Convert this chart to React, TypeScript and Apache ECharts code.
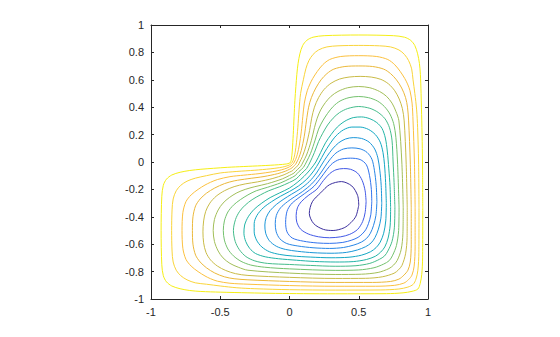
import React, { useEffect, useRef } from "react";
import * as echarts from "echarts";

const xTickLabels = ["-1", "-0.5", "0", "0.5", "1"];
const yTickLabels = ["-1", "-0.8", "-0.6", "-0.4", "-0.2", "0", "0.2", "0.4", "0.6", "0.8", "1"];

// contour lines, outermost (yellow) to innermost (dark blue)
const levelColors = [
  "#F5EE15", "#F9D43A", "#FBC03F", "#EBB83A", "#C9BB47", "#A2BE58", "#74C16D", "#45BC8B",
  "#22B4A6", "#12A7C3", "#1B97D9", "#2786E6", "#3173ED", "#4158E6", "#3B2F9E",
];

const contour01 = [[0.005,-0.005],[0.009,0.003],[0.014,0.02],[0.02,0.08],[0.027,0.2],[0.033,0.33],[0.039,0.45],[0.046,0.55],[0.053,0.64],[0.062,0.72],[0.075,0.79],[0.095,0.85],[0.125,0.888],[0.17,0.911],[0.25,0.922],[0.5,0.927],[0.75,0.922],[0.83,0.911],[0.875,0.888],[0.905,0.85],[0.925,0.79],[0.938,0.72],[0.945,0.64],[0.95,0.5],[0.955,0.3],[0.959,0.1],[0.961,-0.1],[0.962,-0.33],[0.961,-0.7],[0.955,-0.82],[0.944,-0.885],[0.927,-0.927],[0.885,-0.944],[0.82,-0.955],[0.7,-0.961],[0.33,-0.962],[0.1,-0.961],[-0.1,-0.959],[-0.3,-0.955],[-0.5,-0.95],[-0.64,-0.945],[-0.72,-0.938],[-0.79,-0.925],[-0.85,-0.905],[-0.888,-0.875],[-0.911,-0.83],[-0.922,-0.75],[-0.927,-0.5],[-0.922,-0.25],[-0.911,-0.17],[-0.888,-0.125],[-0.85,-0.095],[-0.79,-0.075],[-0.72,-0.062],[-0.64,-0.053],[-0.55,-0.046],[-0.45,-0.039],[-0.33,-0.033],[-0.2,-0.027],[-0.08,-0.02],[-0.02,-0.014],[-0.003,-0.009]];
const contour02 = [[0.012,-0.012],[0.017,-0.006],[0.021,0],[0.026,0.011],[0.033,0.033],[0.041,0.071],[0.05,0.14],[0.06,0.25],[0.069,0.38],[0.08,0.5],[0.1,0.6],[0.118,0.68],[0.14,0.74],[0.17,0.785],[0.21,0.818],[0.27,0.84],[0.35,0.848],[0.5,0.851],[0.65,0.848],[0.73,0.84],[0.79,0.818],[0.83,0.785],[0.86,0.74],[0.882,0.68],[0.892,0.6],[0.905,0.5],[0.918,0.38],[0.925,0.25],[0.932,0],[0.935,-0.33],[0.934,-0.66],[0.927,-0.79],[0.913,-0.855],[0.893,-0.893],[0.855,-0.913],[0.79,-0.927],[0.66,-0.934],[0.33,-0.935],[0,-0.932],[-0.25,-0.925],[-0.38,-0.918],[-0.5,-0.905],[-0.6,-0.892],[-0.68,-0.882],[-0.74,-0.86],[-0.785,-0.83],[-0.818,-0.79],[-0.84,-0.73],[-0.848,-0.65],[-0.851,-0.5],[-0.848,-0.35],[-0.84,-0.27],[-0.818,-0.21],[-0.785,-0.17],[-0.74,-0.14],[-0.68,-0.118],[-0.6,-0.1],[-0.5,-0.08],[-0.38,-0.069],[-0.25,-0.06],[-0.14,-0.05],[-0.071,-0.041],[-0.033,-0.033],[-0.011,-0.026],[0,-0.021],[0.006,-0.017]];
const contour03 = [[0.02,-0.02],[0.029,-0.011],[0.035,0],[0.044,0.018],[0.057,0.057],[0.071,0.123],[0.085,0.22],[0.096,0.33],[0.107,0.43],[0.128,0.52],[0.148,0.57],[0.168,0.61],[0.2,0.66],[0.24,0.71],[0.29,0.748],[0.37,0.77],[0.5,0.776],[0.63,0.77],[0.71,0.748],[0.76,0.71],[0.8,0.66],[0.832,0.61],[0.852,0.57],[0.87,0.52],[0.885,0.43],[0.892,0.3],[0.902,0],[0.907,-0.33],[0.907,-0.62],[0.9,-0.76],[0.884,-0.826],[0.859,-0.859],[0.826,-0.884],[0.76,-0.9],[0.62,-0.907],[0.33,-0.907],[0,-0.902],[-0.3,-0.892],[-0.43,-0.885],[-0.52,-0.87],[-0.57,-0.852],[-0.61,-0.832],[-0.66,-0.8],[-0.71,-0.76],[-0.748,-0.71],[-0.77,-0.63],[-0.776,-0.5],[-0.77,-0.37],[-0.748,-0.29],[-0.71,-0.24],[-0.66,-0.2],[-0.61,-0.168],[-0.57,-0.148],[-0.52,-0.128],[-0.43,-0.107],[-0.33,-0.096],[-0.22,-0.085],[-0.123,-0.071],[-0.057,-0.057],[-0.018,-0.044],[0,-0.035],[0.011,-0.029]];
const contour04 = [[0.03,-0.03],[0.044,-0.017],[0.053,0],[0.066,0.027],[0.085,0.085],[0.106,0.184],[0.122,0.3],[0.138,0.4],[0.158,0.47],[0.19,0.54],[0.228,0.6],[0.27,0.645],[0.32,0.678],[0.4,0.697],[0.5,0.701],[0.6,0.697],[0.68,0.678],[0.73,0.645],[0.772,0.6],[0.81,0.54],[0.838,0.47],[0.852,0.4],[0.86,0.3],[0.872,0],[0.879,-0.33],[0.879,-0.6],[0.872,-0.73],[0.855,-0.79],[0.826,-0.826],[0.79,-0.855],[0.73,-0.872],[0.6,-0.879],[0.33,-0.879],[0,-0.872],[-0.3,-0.86],[-0.4,-0.852],[-0.47,-0.838],[-0.54,-0.81],[-0.6,-0.772],[-0.645,-0.73],[-0.678,-0.68],[-0.697,-0.6],[-0.701,-0.5],[-0.697,-0.4],[-0.678,-0.32],[-0.645,-0.27],[-0.6,-0.228],[-0.54,-0.19],[-0.47,-0.158],[-0.4,-0.138],[-0.3,-0.122],[-0.184,-0.106],[-0.085,-0.085],[-0.027,-0.066],[0,-0.053],[0.017,-0.044]];
const contour05 = [[0.042,-0.042],[0.062,-0.024],[0.074,0],[0.093,0.039],[0.12,0.12],[0.145,0.23],[0.16,0.32],[0.18,0.4],[0.21,0.47],[0.25,0.53],[0.3,0.575],[0.36,0.605],[0.43,0.62],[0.51,0.625],[0.59,0.62],[0.66,0.603],[0.715,0.57],[0.76,0.52],[0.792,0.46],[0.815,0.39],[0.828,0.3],[0.842,0],[0.85,-0.33],[0.849,-0.55],[0.838,-0.67],[0.812,-0.755],[0.787,-0.787],[0.755,-0.812],[0.67,-0.838],[0.55,-0.849],[0.33,-0.85],[0,-0.842],[-0.3,-0.828],[-0.39,-0.815],[-0.46,-0.792],[-0.52,-0.76],[-0.57,-0.715],[-0.603,-0.66],[-0.62,-0.59],[-0.625,-0.51],[-0.62,-0.43],[-0.605,-0.36],[-0.575,-0.3],[-0.53,-0.25],[-0.47,-0.21],[-0.4,-0.18],[-0.32,-0.16],[-0.23,-0.145],[-0.12,-0.12],[-0.039,-0.093],[0,-0.074],[0.024,-0.062]];
const contour06 = [[0.056,-0.056],[0.081,-0.032],[0.098,0],[0.123,0.051],[0.158,0.158],[0.18,0.25],[0.2,0.32],[0.225,0.38],[0.26,0.435],[0.3,0.48],[0.35,0.515],[0.42,0.542],[0.5,0.551],[0.58,0.542],[0.65,0.515],[0.7,0.48],[0.74,0.43],[0.768,0.37],[0.79,0.3],[0.811,0],[0.821,-0.33],[0.819,-0.52],[0.806,-0.64],[0.778,-0.718],[0.752,-0.752],[0.718,-0.778],[0.64,-0.806],[0.52,-0.819],[0.33,-0.821],[0,-0.811],[-0.3,-0.79],[-0.37,-0.768],[-0.43,-0.74],[-0.48,-0.7],[-0.515,-0.65],[-0.542,-0.58],[-0.551,-0.5],[-0.542,-0.42],[-0.515,-0.35],[-0.48,-0.3],[-0.435,-0.26],[-0.38,-0.225],[-0.32,-0.2],[-0.25,-0.18],[-0.158,-0.158],[-0.051,-0.123],[0,-0.098],[0.032,-0.081]];
const contour07 = [[0.069,-0.069],[0.1,-0.04],[0.122,0],[0.152,0.063],[0.185,0.16],[0.21,0.24],[0.24,0.3],[0.275,0.355],[0.315,0.405],[0.365,0.445],[0.43,0.47],[0.5,0.478],[0.57,0.47],[0.635,0.445],[0.685,0.405],[0.725,0.35],[0.752,0.28],[0.768,0.18],[0.78,0],[0.791,-0.33],[0.788,-0.5],[0.772,-0.61],[0.745,-0.68],[0.72,-0.72],[0.68,-0.745],[0.61,-0.772],[0.5,-0.788],[0.33,-0.791],[0,-0.78],[-0.18,-0.768],[-0.28,-0.752],[-0.35,-0.725],[-0.405,-0.685],[-0.445,-0.635],[-0.47,-0.57],[-0.478,-0.5],[-0.47,-0.43],[-0.445,-0.365],[-0.405,-0.315],[-0.355,-0.275],[-0.3,-0.24],[-0.24,-0.21],[-0.16,-0.185],[-0.063,-0.152],[0,-0.122],[0.04,-0.1]];
const contour08 = [[0.085,-0.085],[0.123,-0.048],[0.149,0],[0.18,0.07],[0.21,0.15],[0.24,0.21],[0.275,0.27],[0.315,0.32],[0.36,0.36],[0.42,0.39],[0.5,0.405],[0.58,0.392],[0.64,0.362],[0.69,0.315],[0.722,0.25],[0.74,0.16],[0.748,0],[0.755,-0.15],[0.761,-0.33],[0.757,-0.48],[0.74,-0.58],[0.71,-0.65],[0.686,-0.686],[0.65,-0.71],[0.58,-0.74],[0.48,-0.757],[0.33,-0.761],[0.15,-0.755],[0,-0.748],[-0.16,-0.74],[-0.25,-0.722],[-0.315,-0.69],[-0.362,-0.64],[-0.392,-0.58],[-0.405,-0.5],[-0.39,-0.42],[-0.36,-0.36],[-0.32,-0.315],[-0.27,-0.275],[-0.21,-0.24],[-0.15,-0.21],[-0.07,-0.18],[0,-0.149],[0.048,-0.123]];
const contour09 = [[0.105,-0.105],[0.15,-0.055],[0.19,0],[0.225,0.07],[0.26,0.14],[0.3,0.2],[0.345,0.255],[0.4,0.298],[0.46,0.324],[0.52,0.329],[0.58,0.316],[0.63,0.288],[0.668,0.245],[0.692,0.175],[0.706,0.08],[0.717,-0.05],[0.726,-0.18],[0.73,-0.33],[0.727,-0.46],[0.712,-0.555],[0.688,-0.62],[0.658,-0.658],[0.62,-0.688],[0.555,-0.712],[0.46,-0.727],[0.33,-0.73],[0.18,-0.726],[0.05,-0.717],[-0.08,-0.706],[-0.175,-0.692],[-0.245,-0.668],[-0.288,-0.63],[-0.316,-0.58],[-0.329,-0.52],[-0.324,-0.46],[-0.298,-0.4],[-0.255,-0.345],[-0.2,-0.3],[-0.14,-0.26],[-0.07,-0.225],[0,-0.19],[0.055,-0.15]];
const contour10 = [[0.125,-0.125],[0.175,-0.065],[0.215,0],[0.25,0.065],[0.29,0.13],[0.335,0.19],[0.39,0.235],[0.45,0.255],[0.51,0.255],[0.57,0.238],[0.62,0.2],[0.655,0.145],[0.675,0.07],[0.686,-0.02],[0.694,-0.15],[0.699,-0.3],[0.695,-0.43],[0.68,-0.52],[0.655,-0.585],[0.625,-0.625],[0.585,-0.655],[0.52,-0.68],[0.43,-0.695],[0.3,-0.699],[0.15,-0.694],[0.02,-0.686],[-0.07,-0.675],[-0.145,-0.655],[-0.2,-0.62],[-0.238,-0.57],[-0.255,-0.51],[-0.255,-0.45],[-0.235,-0.39],[-0.19,-0.335],[-0.13,-0.29],[-0.065,-0.25],[0,-0.215],[0.065,-0.175]];
const contour11 = [[0.143,-0.143],[0.195,-0.08],[0.235,-0.015],[0.27,0.04],[0.31,0.095],[0.355,0.14],[0.405,0.168],[0.46,0.178],[0.52,0.172],[0.575,0.145],[0.615,0.095],[0.638,0.03],[0.652,-0.06],[0.662,-0.17],[0.666,-0.3],[0.66,-0.41],[0.642,-0.49],[0.618,-0.55],[0.59,-0.59],[0.55,-0.618],[0.49,-0.642],[0.41,-0.66],[0.3,-0.666],[0.17,-0.662],[0.06,-0.652],[-0.03,-0.638],[-0.095,-0.615],[-0.145,-0.575],[-0.172,-0.52],[-0.178,-0.46],[-0.168,-0.405],[-0.14,-0.355],[-0.095,-0.31],[-0.04,-0.27],[0.015,-0.235],[0.08,-0.195]];
const contour12 = [[0.16,-0.16],[0.215,-0.095],[0.255,-0.035],[0.29,0.015],[0.335,0.065],[0.39,0.095],[0.45,0.103],[0.51,0.096],[0.56,0.07],[0.595,0.02],[0.613,-0.06],[0.626,-0.17],[0.631,-0.29],[0.624,-0.39],[0.606,-0.465],[0.584,-0.52],[0.557,-0.557],[0.52,-0.584],[0.465,-0.606],[0.39,-0.624],[0.29,-0.631],[0.17,-0.626],[0.06,-0.613],[-0.02,-0.595],[-0.07,-0.56],[-0.096,-0.51],[-0.103,-0.45],[-0.095,-0.39],[-0.065,-0.335],[-0.015,-0.29],[0.035,-0.255],[0.095,-0.215]];
const contour13 = [[0.177,-0.177],[0.23,-0.11],[0.27,-0.055],[0.31,-0.01],[0.36,0.018],[0.44,0.028],[0.51,0.018],[0.555,-0.02],[0.578,-0.1],[0.591,-0.2],[0.594,-0.29],[0.587,-0.385],[0.57,-0.45],[0.55,-0.495],[0.525,-0.525],[0.495,-0.55],[0.45,-0.57],[0.385,-0.587],[0.29,-0.594],[0.2,-0.591],[0.1,-0.578],[0.02,-0.555],[-0.018,-0.51],[-0.028,-0.44],[-0.018,-0.36],[0.01,-0.31],[0.055,-0.27],[0.11,-0.23]];
const contour14 = [[0.198,-0.198],[0.245,-0.135],[0.29,-0.085],[0.335,-0.057],[0.39,-0.048],[0.44,-0.053],[0.49,-0.08],[0.525,-0.135],[0.546,-0.21],[0.553,-0.29],[0.546,-0.37],[0.528,-0.435],[0.492,-0.492],[0.435,-0.528],[0.37,-0.546],[0.29,-0.553],[0.21,-0.546],[0.135,-0.525],[0.08,-0.49],[0.053,-0.44],[0.048,-0.39],[0.057,-0.335],[0.085,-0.29],[0.135,-0.245]];
const contour15 = [[0.225,-0.225],[0.29,-0.165],[0.375,-0.143],[0.45,-0.175],[0.492,-0.245],[0.5,-0.315],[0.48,-0.395],[0.443,-0.443],[0.395,-0.48],[0.315,-0.5],[0.245,-0.492],[0.175,-0.45],[0.143,-0.375],[0.165,-0.29]];

const contours = [
  contour01, contour02, contour03, contour04, contour05, contour06, contour07, contour08,
  contour09, contour10, contour11, contour12, contour13, contour14, contour15,
];

const AXIS_COLOR = "#262626";
const FONT = "'Liberation Sans', Arial, Helvetica, sans-serif";

export default function App() {
  const ref = useRef<HTMLDivElement>(null);
  useEffect(() => {
    document.body.style.margin = "0";
    if (!ref.current) return;
    const chart = echarts.init(ref.current, null, { renderer: "svg" });

    const series = contours.map((pts, i) => {
      let s = 0;
      for (let j = 1; j < pts.length; j++) if (pts[j][0] > pts[s][0]) s = j;
      const ring = pts.slice(s).concat(pts.slice(0, s));
      ring.push(ring[0]);
      return {
        type: "line",
        data: ring,
        smooth: 0.3,
        showSymbol: false,
        symbol: "none",
        silent: true,
        xAxisIndex: 0,
        yAxisIndex: 0,
        lineStyle: { color: levelColors[i], width: 1 },
      };
    });

    const axisCommon = {
      type: "value",
      splitLine: { show: false },
      axisLine: { show: true, onZero: false, lineStyle: { color: AXIS_COLOR, width: 1 } },
      axisTick: { show: true, inside: true, length: 3, lineStyle: { color: AXIS_COLOR, width: 1 } },
    };
    const labelStyle = { color: AXIS_COLOR, fontFamily: FONT, fontSize: 11 };

    chart.setOption({
      animation: false,
      backgroundColor: "#ffffff",
      grid: { left: 151, top: 25, width: 277, height: 274, containLabel: false },
      xAxis: [
        {
          ...axisCommon, position: "bottom", min: -1, max: 1, interval: 0.5,
          axisLabel: { ...labelStyle, margin: 7, formatter: (v: number) => xTickLabels[Math.round((v + 1) / 0.5)] },
        },
        {
          ...axisCommon, position: "top", min: -1, max: 1, interval: 0.5,
          axisLabel: { show: false },
        },
      ],
      yAxis: [
        {
          ...axisCommon, position: "left", min: -1, max: 1, interval: 0.2,
          axisLabel: { ...labelStyle, margin: 7, formatter: (v: number) => yTickLabels[Math.round((v + 1) / 0.2)] },
        },
        {
          ...axisCommon, position: "right", min: -1, max: 1, interval: 0.2,
          axisLabel: { show: false },
        },
      ],
      series,
    });
    return () => chart.dispose();
  }, []);
  return <div ref={ref} style={{ width: 560, height: 337 }} />;
}
